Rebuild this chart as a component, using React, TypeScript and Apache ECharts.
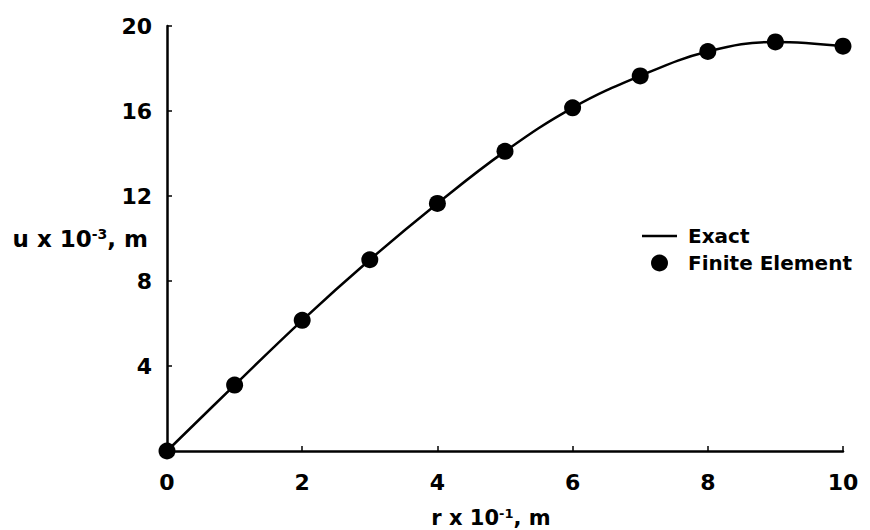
import React, { useEffect, useRef } from "react";
import * as echarts from "echarts";

const rValues = [0, 1, 2, 3, 4, 5, 6, 7, 8, 9, 10];
const exactValues = [0, 3.1, 6.15, 9.0, 11.65, 14.1, 16.15, 17.65, 18.8, 19.25, 19.05];
const feValues = [0, 3.1, 6.15, 9.0, 11.65, 14.1, 16.15, 17.65, 18.8, 19.25, 19.05];
const legendNames = ["Exact", "Finite Element"];

const FONT = "DejaVu Sans";

export default function App() {
  const ref = useRef<HTMLDivElement>(null);
  useEffect(() => {
    if (!ref.current) return;
    const chart = echarts.init(ref.current, undefined, { renderer: "svg" });
    const exactData = rValues.map((r, i) => [r, exactValues[i]]);
    const feData = rValues.map((r, i) => [r, feValues[i]]);
    const supStyle = {
      fontFamily: FONT,
      fontWeight: "bold",
      fontSize: 13,
      verticalAlign: "top",
      padding: [0, 0, 9, 0],
      color: "#000",
    };
    chart.setOption({
      animation: false,
      backgroundColor: "#ffffff",
      grid: { left: 167, right: 27, top: 26, bottom: 79, outerBoundsMode: "none" },
      legend: {
        orient: "vertical",
        left: 637,
        top: 221,
        itemWidth: 35,
        itemHeight: 17,
        itemGap: 7,
        selectedMode: false,
        textStyle: {
          fontFamily: FONT,
          fontWeight: "bold",
          fontSize: 20,
          color: "#000",
          padding: [0, 0, 0, 6],
        },
        data: [
          { name: legendNames[0], icon: "path://M0,0 h35 v2.6 h-35 Z", itemStyle: { color: "#000", opacity: 1 } },
          { name: legendNames[1], icon: "circle", itemStyle: { color: "#000", opacity: 1 } },
        ],
      },
      xAxis: {
        type: "value",
        min: 0,
        max: 10,
        interval: 2,
        name: "r x 10{sup|-1}, m",
        nameLocation: "middle",
        nameGap: 56,
        nameMoveOverlap: false,
        nameTextStyle: {
          fontFamily: FONT,
          fontWeight: "bold",
          fontSize: 21,
          color: "#000",
          padding: [0, 28, 0, 0],
          rich: { sup: supStyle },
        },
        axisLine: { show: true, onZero: false, lineStyle: { color: "#000", width: 2.5 } },
        axisTick: { show: true, inside: true, length: 5, lineStyle: { color: "#000", width: 1.5 } },
        splitLine: { show: false },
        axisLabel: {
          margin: 20,
          fontFamily: FONT,
          fontWeight: "bold",
          fontSize: 22,
          color: "#000",
        },
      },
      yAxis: {
        type: "value",
        min: 0,
        max: 20,
        interval: 4,
        name: "u x 10{sup|-3}, m",
        nameLocation: "middle",
        nameRotate: 0,
        nameGap: 19,
        nameMoveOverlap: false,
        nameTextStyle: {
          fontFamily: FONT,
          fontWeight: "bold",
          fontSize: 23,
          color: "#000",
          align: "right",
          rich: { sup: { ...supStyle, fontSize: 14 } },
        },
        axisLine: { show: true, onZero: false, lineStyle: { color: "#000", width: 2.5 } },
        axisTick: { show: true, inside: true, length: 5, lineStyle: { color: "#000", width: 1.5 } },
        splitLine: { show: false },
        axisLabel: {
          margin: 15,
          fontFamily: FONT,
          fontWeight: "bold",
          fontSize: 22,
          color: "#000",
          formatter: (v: number) => (v === 0 ? "" : String(v)),
        },
      },
      series: [
        {
          name: legendNames[0],
          type: "line",
          data: exactData,
          smooth: 0.4,
          showSymbol: false,
          symbol: "none",
          lineStyle: { color: "#000", width: 2.5 },
          itemStyle: { color: "#000" },
          z: 2,
        },
        {
          name: legendNames[1],
          type: "scatter",
          data: feData,
          symbol: "circle",
          symbolSize: 17,
          itemStyle: { color: "#000", opacity: 1 },
          z: 3,
        },
      ],
    });
    return () => chart.dispose();
  }, []);
  return (
    <div
      ref={ref}
      style={{ position: "fixed", left: 0, top: 0, width: 870, height: 530, background: "#fff" }}
    />
  );
}
